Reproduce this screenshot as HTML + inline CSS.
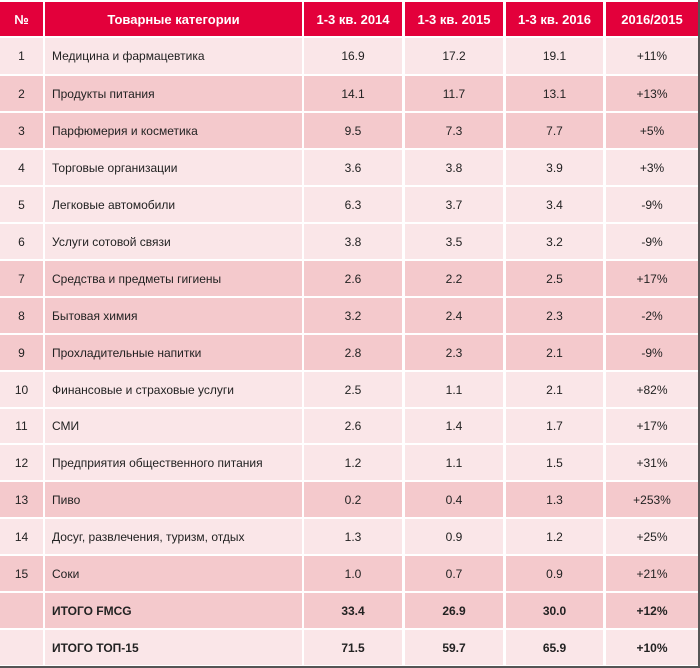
<!DOCTYPE html>
<html><head><meta charset="utf-8"><style>
body{margin:0;width:700px;height:668px;background:#fff;font-family:"Liberation Sans","DejaVu Sans",sans-serif;overflow:hidden}
#t{position:absolute;left:0;top:0;width:698px;height:666px;border-right:2px solid #555;border-bottom:2px solid #555;background:#fff}
.c{position:absolute;display:flex;align-items:center;justify-content:center;font-size:12px;color:#222;box-sizing:border-box}
.h{background:#e3003b;color:#fff;font-weight:bold;font-size:13px}
.l{justify-content:flex-start;padding-left:7px}
.b{font-weight:bold}
</style></head><body>
<div id="t"></div>
<script>
const cols=[[0,43],[45,302],[304,402],[405,503],[506,603],[606,698]];
const heads=["№","Товарные категории","1-3 кв. 2014","1-3 кв. 2015","1-3 кв. 2016","2016/2015"];
const names=["Медицина и фармацевтика","Продукты питания","Парфюмерия и косметика","Торговые организации","Легковые автомобили","Услуги сотовой связи","Средства и предметы гигиены","Бытовая химия","Прохладительные напитки","Финансовые и страховые услуги","СМИ","Предприятия общественного питания","Пиво","Досуг, развлечения, туризм, отдых","Соки","ИТОГО  FMCG","ИТОГО ТОП-15"];
const v2014=["16.9","14.1","9.5","3.6","6.3","3.8","2.6","3.2","2.8","2.5","2.6","1.2","0.2","1.3","1.0","33.4","71.5"];
const v2015=["17.2","11.7","7.3","3.8","3.7","3.5","2.2","2.4","2.3","1.1","1.4","1.1","0.4","0.9","0.7","26.9","59.7"];
const v2016=["19.1","13.1","7.7","3.9","3.4","3.2","2.5","2.3","2.1","2.1","1.7","1.5","1.3","1.2","0.9","30.0","65.9"];
const chg=["+11%","+13%","+5%","+3%","-9%","-9%","+17%","-2%","-9%","+82%","+17%","+31%","+253%","+25%","+21%","+12%","+10%"];
const dark=[0,1,1,0,0,0,1,1,1,0,0,0,1,0,1,1,0];
const t=document.getElementById('t');
function cell(x0,x1,y0,y1,txt,cls,bg){
  const d=document.createElement('div');
  d.className='c '+cls;
  d.style.left=x0+'px';d.style.width=(x1-x0)+'px';d.style.top=y0+'px';d.style.height=(y1-y0)+'px';
  if(bg)d.style.background=bg;
  d.textContent=txt;
  t.appendChild(d);return d;
}
heads.forEach((h,i)=>{
  const d=cell(cols[i][0],cols[i][1],2,36,h,'h');
  
  
});
const top0=38,rh=36.95;
names.forEach((n,r)=>{
  const y0=Math.round(top0+r*rh)+(r?1:0),y1=Math.round(top0+(r+1)*rh)-1;
  const bg=dark[r]?'#f4c9cc':'#fae6e8';
  const bold=r>=15?' b':'';
  const vals=[r<15?String(r+1):'',n,v2014[r],v2015[r],v2016[r],chg[r]];
  vals.forEach((v,i)=>{
    const d=cell(cols[i][0],cols[i][1],y0,y1,v,(i==1?'l':'')+bold,bg);
    
    
  });
});
</script>
</body></html>
